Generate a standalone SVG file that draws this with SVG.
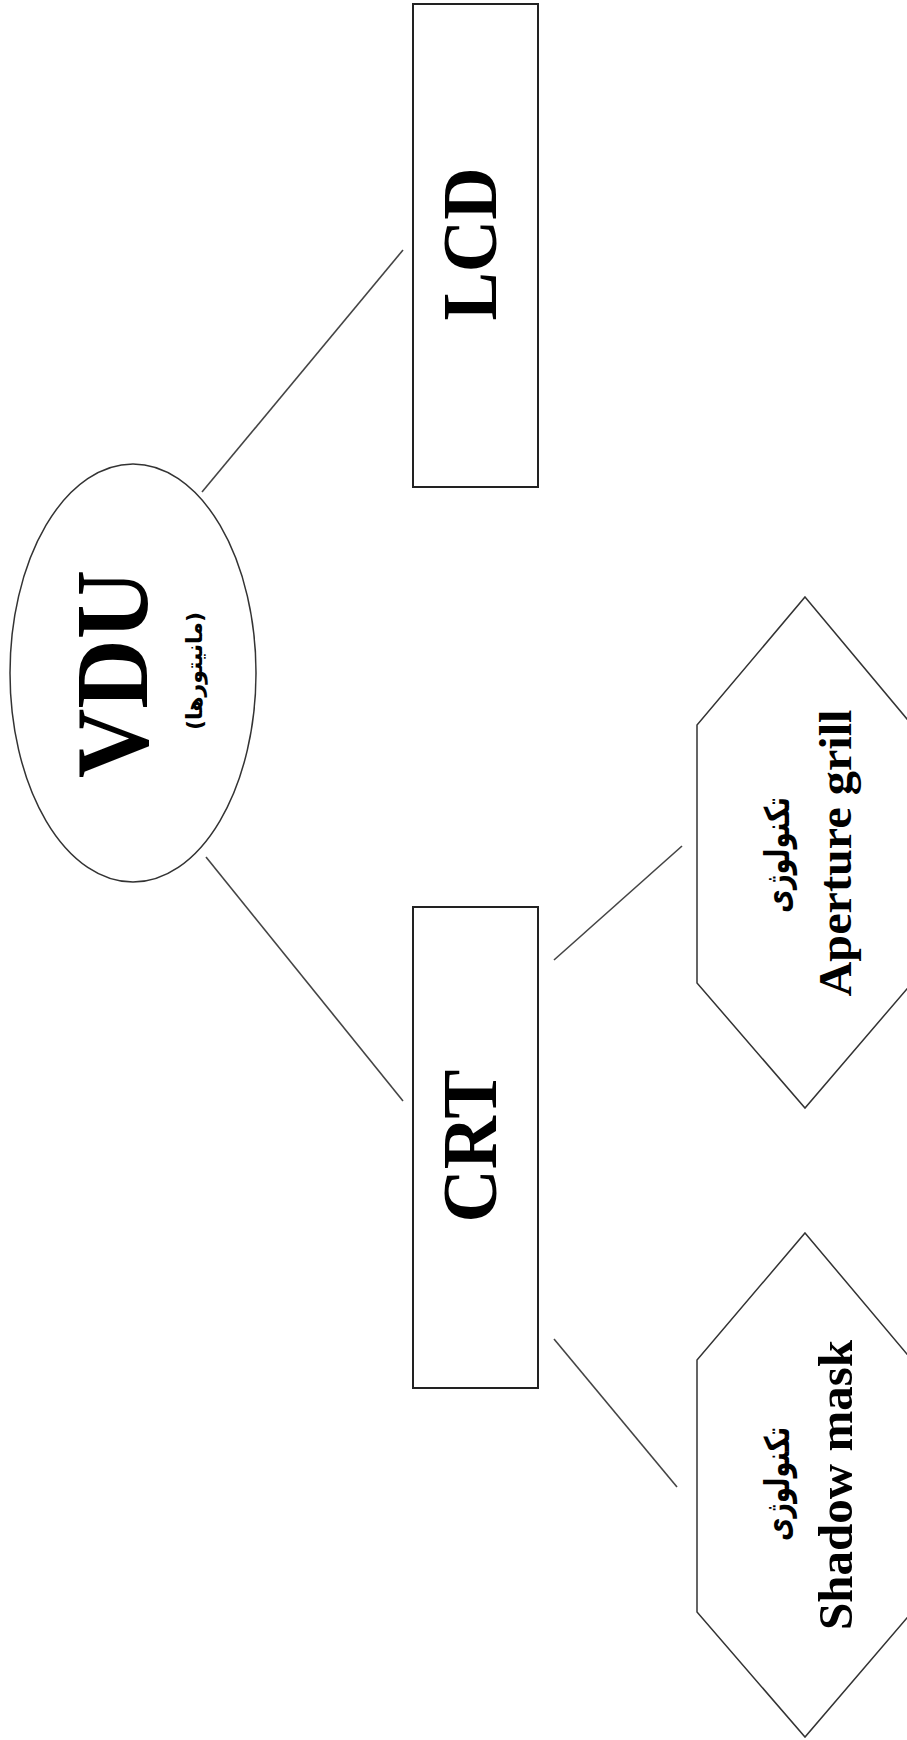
<svg xmlns="http://www.w3.org/2000/svg" width="907" height="1740" viewBox="0 0 907 1740">
<style>
.bg{fill:#fff}
.box{fill:#fff;stroke:#222;stroke-width:2}
.shape{fill:#fff;stroke:#333;stroke-width:1.5}
.conn{stroke:#444;stroke-width:1.6;fill:none}
.lat{font-family:"Liberation Serif","Times New Roman",serif;font-weight:bold;fill:#000}
.fa{font-family:"DejaVu Sans","Noto Sans",sans-serif;font-weight:bold;fill:#000}
</style>
<rect class="bg" x="0" y="0" width="907" height="1740"/>
<g id="connectors">
<line class="conn" x1="202" y1="492" x2="403" y2="250"/>
<line class="conn" x1="206" y1="857" x2="403" y2="1101"/>
<line class="conn" x1="554" y1="960" x2="682" y2="846"/>
<line class="conn" x1="554" y1="1339" x2="677" y2="1487"/>
</g>
<g id="vdu">
<ellipse class="shape" cx="133" cy="673" rx="123" ry="209"/>
<text class="lat" transform="translate(147,674) rotate(-90)" text-anchor="middle" font-size="104" textLength="208" lengthAdjust="spacingAndGlyphs">VDU</text>
<text class="fa" transform="translate(202,671) rotate(-90)" text-anchor="middle" font-size="22" textLength="118" lengthAdjust="spacingAndGlyphs">(مانیتورها)</text>
</g>
<g id="lcd">
<rect class="box" x="413" y="4" width="125" height="483"/>
<text class="lat" transform="translate(496,244) rotate(-90)" text-anchor="middle" font-size="79" textLength="153" lengthAdjust="spacingAndGlyphs">LCD</text>
</g>
<g id="crt">
<rect class="box" x="413" y="907" width="125" height="481"/>
<text class="lat" transform="translate(496,1146) rotate(-90)" text-anchor="middle" font-size="79" textLength="153" lengthAdjust="spacingAndGlyphs">CRT</text>
</g>
<g id="aperture">
<polygon class="shape" points="805,597 912,725 912,983 805,1108 697,983 697,725"/>
<text class="fa" transform="translate(789,855) rotate(-90)" text-anchor="middle" font-size="34" textLength="116" lengthAdjust="spacingAndGlyphs">تکنولوژی</text>
<text class="lat" transform="translate(851,853) rotate(-90)" text-anchor="middle" font-size="46" textLength="287" lengthAdjust="spacingAndGlyphs">Aperture grill</text>
</g>
<g id="shadow">
<polygon class="shape" points="805,1233 912,1360 912,1612 805,1737 697,1612 697,1360"/>
<text class="fa" transform="translate(789,1484) rotate(-90)" text-anchor="middle" font-size="34" textLength="114" lengthAdjust="spacingAndGlyphs">تکنولوژی</text>
<text class="lat" transform="translate(852,1485) rotate(-90)" text-anchor="middle" font-size="48" textLength="290" lengthAdjust="spacingAndGlyphs">Shadow mask</text>
</g>
</svg>
